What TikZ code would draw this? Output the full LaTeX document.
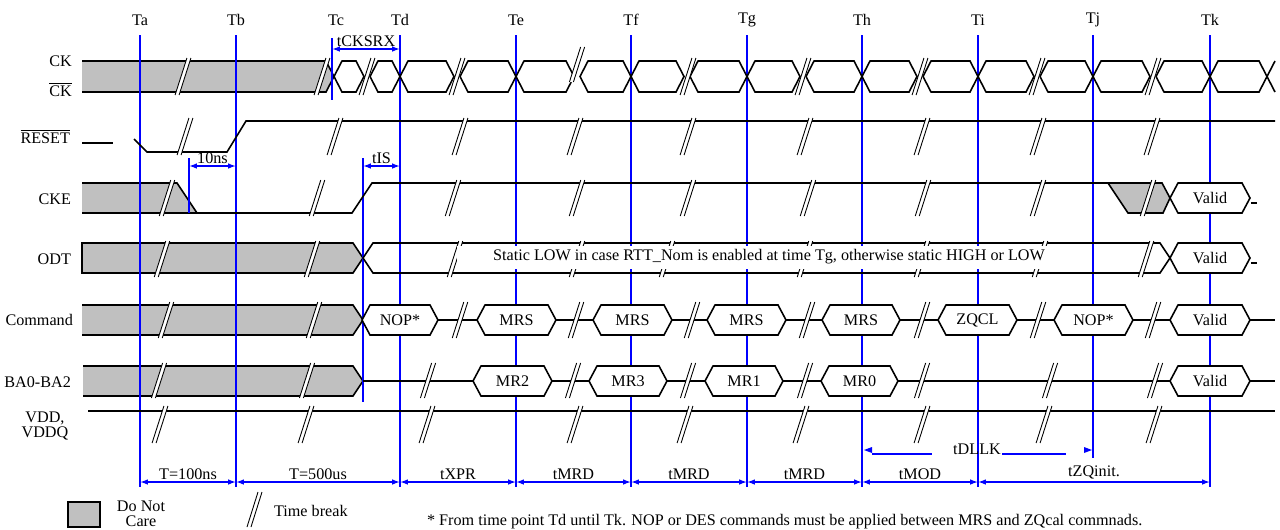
\documentclass[tikz,border=0pt]{standalone}
\usepackage{fontspec}
\setmainfont{Liberation Serif}
\usetikzlibrary{arrows.meta}
\definecolor{CareGray}{RGB}{192,192,192}
\definecolor{MarkBlue}{RGB}{0,0,255}

\begin{document}
\begin{tikzpicture}[
    x=0.02cm, y=-0.02cm,
    every node/.style={font=\fontsize{9.2}{10}\selectfont, inner sep=1pt},
    sig/.style={line width=0.9pt, line join=miter},
    care/.style={sig, fill=CareGray},
    tline/.style={MarkBlue, line width=0.8pt},
    dim/.style={MarkBlue, line width=0.8pt, {Latex[length=4.5pt,width=3.2pt]}-{Latex[length=4.5pt,width=3.2pt]}},
    dimlbl/.style={above, text=black},
    brk/.style={line width=0.5pt},
]
\useasboundingbox (0,0) rectangle (1280,529);

% Helper for time breaks (two slanted lines, white between)
% #1=x centre, #2=top y, #3=bottom y
\newcommand{\tbreak}[3]{
    \fill[white] ({#1-0.16*(#3-#2)-2},#3) -- ({#1+0.16*(#3-#2)-2},#2) -- ({#1+0.16*(#3-#2)+2},#2) -- ({#1-0.16*(#3-#2)+2},#3) -- cycle;
    \draw[brk] ({#1-0.16*(#3-#2)-2},#3) -- ({#1+0.16*(#3-#2)-2},#2);
    \draw[brk] ({#1-0.16*(#3-#2)+2},#3) -- ({#1+0.16*(#3-#2)+2},#2);
}
% Helper for bus values (hexagon + label)
% #1=name, #2=left tip, #3=right tip, #4=mid y, #5=label
\newcommand{\busval}[5]{
    \draw[sig, fill=white] (#2,#4) -- (#2+8,#4-15) -- (#3-8,#4-15) -- (#3,#4) -- (#3-8,#4+15) -- (#2+8,#4+15) -- cycle;
    \node (#1) at ({(#2+#3)/2},#4) {#5};
}
% Helper for one clock half period
% #1=left tip, #2=right tip
\newcommand{\clkcell}[2]{
    \draw[sig] (#1,76.5) -- (#1+8,61) -- (#2-8,61) -- (#2,76.5) -- (#2-8,92) -- (#1+8,92) -- cycle;
}

% Do not care areas
\draw[care] (82,61) -- (326,61) -- (334,76.5) -- (326,92) -- (82,92);
\draw[care] (82,183) -- (177,183) -- (197,213) -- (82,213);
\draw[care] (1108,183) -- (1162,183) -- (1170,198) -- (1163,213) -- (1128,213) -- cycle;
\draw[care] (82,243) -- (353,243) -- (363,258) -- (353,273) -- (82,273) -- cycle;
\draw[care] (82,305) -- (353,305) -- (363,320) -- (353,335) -- (82,335);
\draw[care] (83,366) -- (353,366) -- (363,381) -- (353,396) -- (83,396);

% Time points
\foreach \n/\x/\yb in {Ta/140/487, Tb/236/487, Td/400/487, Te/516/487, Tf/631/487,
                        Tg/747/487, Th/862/487, Ti/978/487, Tj/1093/458, Tk/1210/487} {
    \node (\n) at (\x,20) {\n};
    \draw[tline] (\x,35) -- (\x,\yb);
    \coordinate (\n-d) at (\x,482);
}
\node (Tc) at (336,20) {Tc};
\draw[tline] (332,38) -- (332,100);
\draw[tline] (189,158) -- (189,213);
\draw[tline] (363,158) -- (363,402);

% CK
\foreach \a/\b in {334/364, 370/400, 400/454, 460/516, 516/574, 580/631, 631/684, 690/747,
                   747/800, 806/862, 862/917, 923/978, 978/1034, 1040/1093, 1093/1150,
                   1156/1210, 1210/1267} {
    \clkcell{\a}{\b}
}
\draw[sig] (1275,61) -- (1267,76.5) -- (1275,92);
\foreach \bx/\bt/\bb in {183/58/95, 322/58/95, 367/58/95, 457/58/95, 577/47/82,
                         688/58/95, 803/58/95, 920/58/95, 1037/58/95, 1153/58/95} {
    \tbreak{\bx}{\bt}{\bb}
}

% RESET
\draw[sig] (82,143) -- (113,143);
\draw[sig] (134,139) -- (147,152) -- (227,152) -- (246,121) -- (1275,121);
\foreach \bx in {185,335,460,575,688,805,922,1038,1152} {
    \tbreak{\bx}{118}{155}
}

% CKE
\draw[sig] (197,213) -- (352,213) -- (372,183) -- (1108,183);
\busval{cke-valid}{1170}{1250}{198}{Valid}
\draw[line width=0.6pt] (1251,203) -- (1257,203);
\foreach \bx in {167,317,453,577,688,808,923,1038,1148} {
    \tbreak{\bx}{180}{216}
}

% ODT
\draw[sig] (363,258) -- (373,243) -- (1160,243) -- (1170,258) -- (1160,273) -- (373,273) -- cycle;
\busval{odt-valid}{1170}{1250}{258}{Valid}
\draw[line width=0.6pt] (1251,263) -- (1257,263);
\foreach \bx in {162,312,455,577,667,805,922,1040,1146} {
    \tbreak{\bx}{241}{277}
}
\fill[white] (457,246) rectangle (1062,269);
\node (rtt) at (769,257) {Static LOW in case RTT\_Nom is enabled at time Tg, otherwise static HIGH or LOW};

% Command
\draw[sig] (438,320) -- (1275,320);
\busval{nop1}{362}{438}{320}{NOP*}
\busval{mrs1}{477}{556}{320}{MRS}
\busval{mrs2}{593}{672}{320}{MRS}
\busval{mrs3}{707}{786}{320}{MRS}
\busval{mrs4}{822}{900}{320}{MRS}
\busval{zqcl}{938}{1017}{320}{ZQCL}
\busval{nop2}{1054}{1133}{320}{NOP*}
\busval{cmd-valid}{1170}{1250}{320}{Valid}
\foreach \bx in {166,314,460,576,692,807,922,1038,1153} {
    \tbreak{\bx}{302}{338}
}

% BA0-BA2
\draw[sig] (363,381) -- (1275,381);
\busval{mr2}{473}{552}{381}{MR2}
\busval{mr3}{589}{667}{381}{MR3}
\busval{mr1}{705}{783}{381}{MR1}
\busval{mr0}{821}{898}{381}{MR0}
\busval{ba-valid}{1170}{1250}{381}{Valid}
\foreach \bx in {159,307,428,573,688,805,922,1050,1155} {
    \tbreak{\bx}{363}{398}
}

% VDD, VDDQ
\draw[line width=1.6pt] (88,411) -- (1275,411);
\foreach \bx in {160,306,427,575,685,801,922,1044,1154} {
    \tbreak{\bx}{406}{443}
}

% Signal names
\node[anchor=east] (l-ck) at (74,61) {CK};
\node[anchor=east] (l-ckb) at (74,89) {$\overline{\mbox{CK}}$};
\node[anchor=east] (l-rst) at (72,136) {$\overline{\mbox{RESET}}$};
\node[anchor=east] (l-cke) at (73,199) {CKE};
\node[anchor=east] (l-odt) at (73,259) {ODT};
\node[anchor=east] (l-cmd) at (75,320) {Command};
\node[anchor=east] (l-ba) at (73,382) {BA0-BA2};
\node[align=center, font=\fontsize{9.2}{8.5}\selectfont] (l-vdd) at (45,426) {VDD,\\VDDQ};

% Timing parameters
\coordinate (cks-a) at (332,49);
\coordinate (cks-b) at (400,49);
\coordinate (ns-a) at (189,166);
\coordinate (ns-b) at (236,166);
\coordinate (tis-a) at (363,166);
\coordinate (tis-b) at (400,166);
\draw[dim] (cks-a) -- node[dimlbl] (tcksrx) {tCKSRX} (cks-b);
\draw[dim] (ns-a) -- node[dimlbl] (t10ns) {10ns} (ns-b);
\draw[dim] (tis-a) -- node[dimlbl] (tis) {tIS} (tis-b);

\draw[dim] (Ta-d) -- node[dimlbl] (w-ab) {T=100ns} (Tb-d);
\draw[dim] (Tb-d) -- node[dimlbl] (w-bd) {T=500us} (Td-d);
\draw[dim] (Td-d) -- node[dimlbl] (w-de) {tXPR} (Te-d);
\draw[dim] (Te-d) -- node[dimlbl] (w-ef) {tMRD} (Tf-d);
\draw[dim] (Tf-d) -- node[dimlbl] (w-fg) {tMRD} (Tg-d);
\draw[dim] (Tg-d) -- node[dimlbl] (w-gh) {tMRD} (Th-d);
\draw[dim] (Th-d) -- node[dimlbl] (w-hi) {tMOD} (Ti-d);
\draw[dim] (Ti-d) -- node[dimlbl] (w-ik) {tZQinit.} (Tk-d);

% tDLLK
\fill[MarkBlue] (864,450) -- (872,447) -- (872,453) -- cycle;
\draw[tline] (872,454) -- (932,454);
\node (tdllk) at (977,449) {tDLLK};
\draw[tline] (1002,454) -- (1066,454);
\fill[MarkBlue] (1092,450) -- (1084,447) -- (1084,453) -- cycle;

% Legend
\draw[fill=CareGray, line width=0.6pt] (68,502) rectangle (100,527);
\node[align=center, font=\fontsize{9.2}{8.5}\selectfont] (dontcare) at (141,514) {Do Not\\Care};
\draw[brk] (247,527) -- (258,492);
\draw[brk] (251,527) -- (262,492);
\node[anchor=west] (timebreak) at (272,511) {Time break};
\node[anchor=west] (footnote) at (425,522) {* From time point Td until Tk. NOP or DES commands must be applied between MRS and ZQcal commnads.};

\end{tikzpicture}
\end{document}
